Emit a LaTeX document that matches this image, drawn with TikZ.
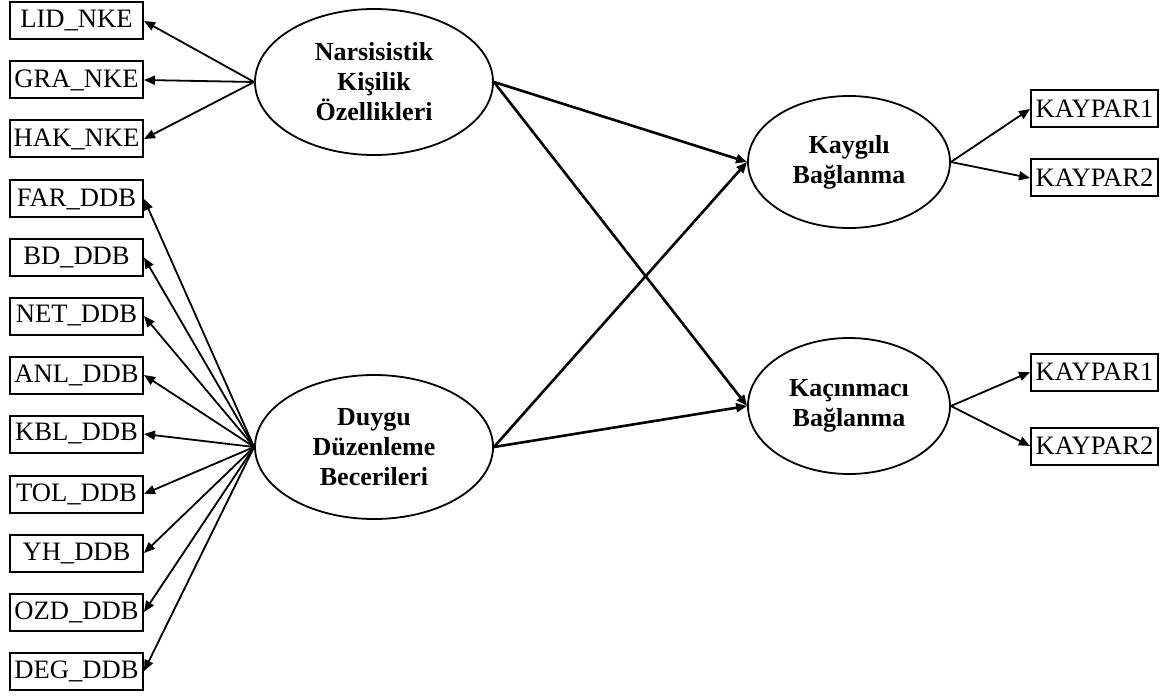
\documentclass[tikz,border=0pt]{standalone}
\usepackage{fontspec}
\setmainfont{Liberation Serif}
\usetikzlibrary{shapes.geometric,arrows.meta}

\begin{document}
\begin{tikzpicture}[x=0.5pt,y=-0.5pt,>={Stealth[length=5.5pt,width=4.5pt,inset=0pt]},
        gosterge/.style={draw,line width=1pt,minimum width=66.5pt,minimum height=18.5pt,inner sep=1pt,font=\fontsize{13.3}{15}\selectfont},
        gostergesag/.style={gosterge,minimum width=63.5pt},
        gizil/.style={draw,ellipse,line width=0.9pt,inner sep=0pt,align=center,font=\fontsize{13}{15}\selectfont\bfseries},
        yuk/.style={->,line width=0.9pt},
        yol/.style={->,line width=1.3pt}]
        \useasboundingbox (0,0) rectangle (1160,695);

        % gizil degiskenler
        \node[gizil,minimum width=119pt,minimum height=73pt] (nke) at (374,82) {Narsisistik\\Kişilik\\Özellikleri};
        \node[gizil,minimum width=119pt,minimum height=72pt] (ddb) at (374,447) {Duygu\\Düzenleme\\Becerileri};
        \node[gizil,minimum width=101pt,minimum height=66pt] (kay) at (849,162) {Kaygılı\\Bağlanma};
        \node[gizil,minimum width=101pt,minimum height=68pt] (kac) at (849,406) {Kaçınmacı\\Bağlanma};

        % narsisistik gostergeleri
        \node[gosterge] (lid) at (76.5,21) {LID\_NKE};
        \node[gosterge] (gra) at (76.5,80) {GRA\_NKE};
        \node[gosterge] (hak) at (76.5,139) {HAK\_NKE};
        \draw[yuk] (nke.west) -- (lid.east);
        \draw[yuk] (nke.west) -- (gra.east);
        \draw[yuk] (nke.west) -- (hak.east);

        % duygu duzenleme gostergeleri
        \node[gosterge] (far) at (76.5,199) {FAR\_DDB};
        \node[gosterge] (bd) at (76.5,257.5) {BD\_DDB};
        \node[gosterge] (net) at (76.5,316) {NET\_DDB};
        \node[gosterge] (anl) at (76.5,375) {ANL\_DDB};
        \node[gosterge] (kbl) at (76.5,434) {KBL\_DDB};
        \node[gosterge] (tol) at (76.5,494) {TOL\_DDB};
        \node[gosterge] (yh) at (76.5,553) {YH\_DDB};
        \node[gosterge] (ozd) at (76.5,612) {OZD\_DDB};
        \node[gosterge] (deg) at (76.5,671) {DEG\_DDB};
        \draw[yuk] (ddb.west) -- (far.east);
        \draw[yuk] (ddb.west) -- (bd.east);
        \draw[yuk] (ddb.west) -- (net.east);
        \draw[yuk] (ddb.west) -- (anl.east);
        \draw[yuk] (ddb.west) -- (kbl.east);
        \draw[yuk] (ddb.west) -- (tol.east);
        \draw[yuk] (ddb.west) -- (yh.east);
        \draw[yuk] (ddb.west) -- (ozd.east);
        \draw[yuk] (ddb.west) -- (deg.east);

        % yapisal yollar
        \draw[yol] (nke.east) -- (kay.west);
        \draw[yol] (nke.east) -- (kac.west);
        \draw[yol] (ddb.east) -- (kay.west);
        \draw[yol] (ddb.east) -- (kac.west);

        % baglanma gostergeleri
        \node[gostergesag] (kay1) at (1094.5,109) {KAYPAR1};
        \node[gostergesag] (kay2) at (1094.5,178) {KAYPAR2};
        \node[gostergesag] (kac1) at (1094.5,372) {KAYPAR1};
        \node[gostergesag] (kac2) at (1094.5,446) {KAYPAR2};
        \draw[yuk] (kay.east) -- (kay1.west);
        \draw[yuk] (kay.east) -- (kay2.west);
        \draw[yuk] (kac.east) -- (kac1.west);
        \draw[yuk] (kac.east) -- (kac2.west);
\end{tikzpicture}
\end{document}
